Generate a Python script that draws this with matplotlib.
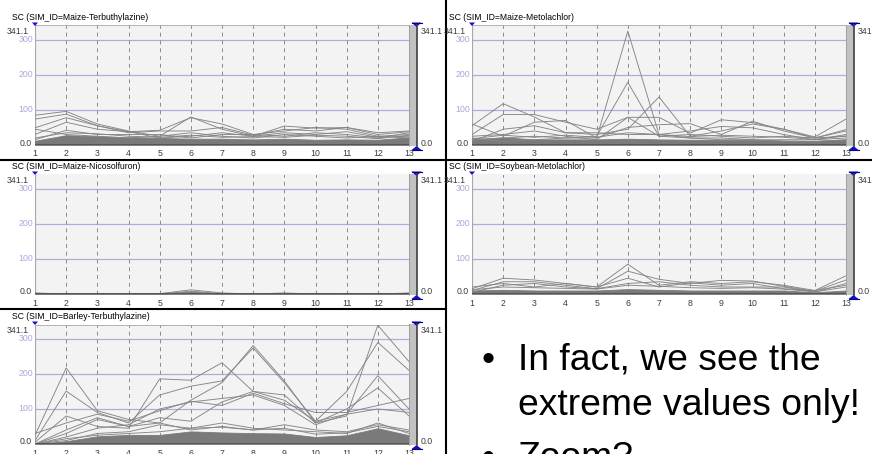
import matplotlib
matplotlib.use("Agg")
import matplotlib.pyplot as plt
from matplotlib.patches import Rectangle, Polygon

plt.rcParams['font.family'] = ['Liberation Sans', 'DejaVu Sans']

W, H = 872, 454

# parallel axes 1..13, value range of SC
axis_ids = list(range(1, 14))
y_max = 341.1
y_grid = [100, 200, 300]

titles = ["SC (SIM_ID=Maize-Terbuthylazine)",
          "SC (SIM_ID=Maize-Metolachlor)",
          "SC (SIM_ID=Maize-Nicosolfuron)",
          "SC (SIM_ID=Soybean-Metolachlor)",
          "SC (SIM_ID=Barley-Terbuthylazine)"]

# visible (extreme) polylines, one value per axis
maize_terb_lines = [
    [85, 96, 60, 40, 25, 80, 45, 25, 54, 48, 50, 30, 38],
    [74, 88, 55, 38, 42, 78, 60, 30, 40, 50, 45, 25, 30],
    [49, 78, 55, 35, 40, 40, 50, 28, 45, 40, 50, 35, 40],
    [30, 65, 45, 38, 20, 25, 35, 25, 35, 30, 38, 22, 25],
    [15, 42, 30, 30, 30, 20, 30, 30, 25, 35, 30, 20, 35],
    [45, 30, 25, 20, 25, 35, 25, 20, 30, 25, 20, 25, 20],
    [20, 35, 32, 25, 22, 28, 22, 24, 22, 28, 25, 18, 28],
]
maize_meto_lines = [
    [20, 10, 15, 20, 20, 325, 30, 20, 15, 15, 10, 10, 15],
    [15, 20, 25, 20, 25, 179, 25, 20, 20, 15, 15, 15, 20],
    [55, 118, 80, 35, 30, 45, 137, 25, 40, 60, 45, 20, 44],
    [30, 87, 87, 65, 45, 79, 79, 34, 72, 64, 45, 23, 74],
    [60, 25, 65, 70, 20, 50, 58, 61, 30, 68, 40, 20, 40],
    [10, 45, 55, 35, 35, 30, 30, 40, 53, 49, 30, 15, 30],
    [25, 30, 40, 25, 15, 79, 25, 30, 25, 20, 25, 20, 25],
    [18, 28, 22, 28, 22, 35, 30, 24, 28, 25, 22, 16, 26],
]
maize_nico_lines = [
    [3, 0, 0, 0, 1, 12, 3, 0, 3, 0, 0, 0, 2],
    [2, 0, 0, 0, 0, 8, 1, 0, 1, 1, 0, 0, 3],
]
soy_meto_lines = [
    [15, 45, 40, 30, 20, 85, 25, 35, 30, 35, 25, 10, 52],
    [10, 35, 35, 25, 15, 65, 42, 30, 39, 37, 22, 8, 40],
    [20, 30, 20, 30, 20, 45, 20, 32, 25, 30, 15, 10, 25],
    [5, 25, 30, 20, 15, 30, 35, 25, 20, 20, 20, 5, 30],
    [12, 20, 18, 16, 14, 25, 22, 18, 16, 18, 14, 6, 20],
]
barley_terb_lines = [
    [25, 217, 95, 70, 60, 125, 175, 281, 180, 60, 80, 339, 235],
    [10, 151, 90, 60, 140, 165, 180, 274, 175, 65, 150, 290, 210],
    [5, 80, 50, 45, 186, 182, 232, 150, 125, 65, 85, 195, 100],
    [30, 60, 85, 65, 95, 122, 110, 145, 115, 90, 90, 110, 130],
    [0, 40, 75, 50, 75, 65, 120, 150, 140, 60, 100, 160, 80],
    [0, 20, 45, 55, 100, 120, 130, 140, 110, 55, 85, 100, 90],
    [0, 30, 70, 50, 60, 40, 50, 40, 55, 40, 35, 55, 40],
    [0, 10, 30, 35, 55, 45, 60, 45, 40, 35, 30, 60, 30],
    [0, 15, 25, 30, 35, 45, 48, 40, 45, 28, 32, 50, 35],
]

# upper edge of the dense band of overlapping polylines
maize_terb_band = [12, 28, 25, 22, 20, 18, 18, 16, 18, 15, 16, 15, 22]
maize_meto_band = [16, 22, 16, 16, 16, 18, 16, 15, 15, 15, 13, 12, 16]
maize_nico_band = [2, 0, 0, 0, 1, 7, 1, 0, 1, 0, 0, 0, 1]
soy_meto_band = [10, 12, 10, 10, 10, 14, 12, 10, 10, 10, 10, 5, 10]
barley_terb_band = [0, 8, 22, 26, 26, 36, 33, 31, 30, 20, 25, 45, 25]

bullets = ["In fact, we see the\nextreme values only!", "Zoom?"]

PW, PH = 374, 119.5   # plot size in pixels
panels = [
    (titles[0], maize_terb_lines, maize_terb_band, 35, 145),
    (titles[1], maize_meto_lines, maize_meto_band, 472, 145),
    (titles[2], maize_nico_lines, maize_nico_band, 35, 294),
    (titles[3], soy_meto_lines, soy_meto_band, 472, 294),
    (titles[4], barley_terb_lines, barley_terb_band, 35, 444),
]

fig = plt.figure(figsize=(W / 100, H / 100), dpi=100)
fig.patch.set_facecolor('white')

ov = fig.add_axes([0, 0, 1, 1], zorder=5)
ov.set_xlim(0, W)
ov.set_ylim(H, 0)
ov.axis('off')
ov.patch.set_alpha(0)

small = dict(fontsize=6.3, color='#3c3c3c')

for title, lines, band, x1, y0 in panels:
    ytop = y0 - PH
    ax = fig.add_axes([x1 / W, 1 - y0 / H, PW / W, PH / H])
    ax.set_xlim(1, 13)
    ax.set_ylim(0, y_max)
    ax.set_facecolor('#f3f3f3')
    for s in ax.spines.values():
        s.set_visible(False)
    ax.set_xticks([])
    ax.set_yticks([])
    for v in y_grid:
        ax.axhline(v, color='#acacdf', lw=0.9, zorder=1)
    for i in axis_ids[1:-1]:
        ax.axvline(i, color='#8a8a8a', lw=0.7, ls=(0, (4, 4)), zorder=1)
    ax.axhline(y_max, color='#a8a8a8', lw=1.2, zorder=1)
    ax.axvline(1, color='#a8a8a8', lw=1.6, zorder=1)

    ax.fill_between(axis_ids, 0, band, color='#7a7a7a', lw=0.6, zorder=2)
    for ln in lines:
        ax.plot(axis_ids, ln, color='#858585', lw=0.65, zorder=3)
    ax.axhline(0, color='#555555', lw=1.4, zorder=4)

    # labels around the plot
    ov.text(x1 - 23, ytop - 8, title, fontsize=6.2, color='black', va='center', ha='left')
    ov.text(x1 - 6, ytop + 6, "341.1", ha='right', va='center', **small)
    for v in y_grid:
        ov.text(x1 - 2, y0 - v * PH / y_max, str(v), ha='right', va='center',
                fontsize=6.3, color='#a8a8dc')
    ov.text(x1 - 3, y0 - 2, "0.0", ha='right', va='center', **small)
    for i in axis_ids:
        ov.text(x1 + (i - 1) * PW / 12, y0 + 9, str(i), ha='center', va='center', **small)
    ov.text(x1 + PW + 12, ytop + 6, "341.1", ha='left', va='center', **small)
    ov.text(x1 + PW + 12, y0 - 2, "0.0", ha='left', va='center', **small)

    # selected last axis bar
    xb = x1 + PW
    ov.add_patch(Rectangle((xb, ytop - 1), 7.5, PH + 2, fc='#c2c2c2', ec='none'))
    ov.plot([xb, xb], [ytop - 1, y0 + 1], color='#9a9a9a', lw=0.6)
    ov.plot([xb + 7.5, xb + 7.5], [ytop - 1, y0 + 1], color='#404040', lw=1.2)
    xc = xb + 7.5
    ov.add_patch(Polygon([(xc - 5, ytop - 3), (xc + 5, ytop - 3), (xc, ytop + 1.5)],
                         fc='#1010c8', ec='none'))
    ov.plot([xc - 5, xc + 5], [ytop - 3, ytop - 3], color='#000080', lw=0.8)
    ov.add_patch(Polygon([(xc - 5, y0 + 5), (xc + 5, y0 + 5), (xc, y0 + 1)],
                         fc='#1010c8', ec='none'))
    ov.plot([xc - 5, xc + 5], [y0 + 5, y0 + 5], color='#000080', lw=0.8)
    ov.add_patch(Polygon([(x1 - 3, ytop - 3), (x1 + 3, ytop - 3), (x1, ytop + 0.5)],
                         fc='#1010c8', ec='none'))

# panel separators
ov.plot([445.5, 445.5], [0, H], color='black', lw=1.5)
ov.plot([0, W], [159.7, 159.7], color='black', lw=1.5)
ov.plot([0, 445.5], [309, 309], color='black', lw=1.5)

# bullet text
ov.text(481, 370, "\u2022", fontsize=26.8, color='black', va='baseline')
ov.text(518, 370, bullets[0].split("\n")[0], fontsize=26.8, color='black', va='baseline')
ov.text(518, 415, bullets[0].split("\n")[1], fontsize=26.8, color='black', va='baseline')
ov.text(481, 468, "\u2022", fontsize=26.8, color='black', va='baseline')
ov.text(518, 468, bullets[1], fontsize=26.8, color='black', va='baseline')

fig.savefig("out.png", dpi=100)
